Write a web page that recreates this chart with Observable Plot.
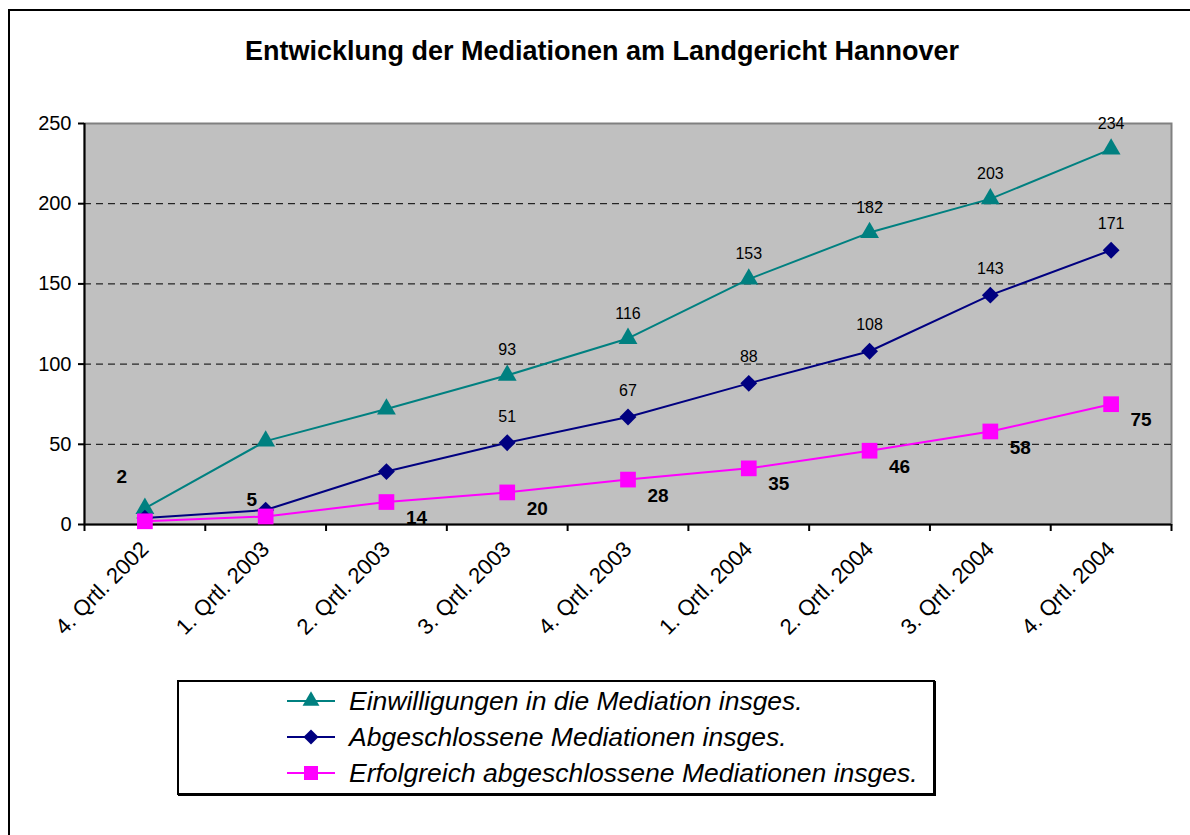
<!DOCTYPE html>
<html><head><meta charset="utf-8">
<script src="https://cdn.jsdelivr.net/npm/d3@7"></script>
<script src="https://cdn.jsdelivr.net/npm/@observablehq/plot@0.6"></script>
<style>
body{margin:0;background:#fff;font-family:"Liberation Sans",Arial,sans-serif;}
#wrap{position:relative;width:1190px;height:835px;overflow:hidden;background:#fff}
#frame{position:absolute;left:8px;top:9px;width:1300px;height:1000px;border:2px solid #000;}
#chart{position:absolute;left:0;top:0}
#title{position:absolute;left:0;width:1204px;top:35px;text-align:center;font-weight:bold;font-size:27px;line-height:32px;color:#000}
#legend{position:absolute;left:177px;top:680px;width:754px;height:111px;border:2px solid #000;box-shadow:1px 1px 0 #000;background:#fff}
.row{position:absolute;left:108px;height:32px;display:flex;align-items:center;font-style:italic;font-size:26.5px;color:#000;white-space:nowrap}
.row svg{margin-right:14px}
</style>
</head><body>
<div id="wrap">
  <div id="frame"></div>
  <div id="chart"></div>
  <div id="title"></div>
  <div id="legend"></div>
</div>
<script>
const title = "Entwicklung der Mediationen am Landgericht Hannover";
const quarters = ["4. Qrtl. 2002","1. Qrtl. 2003","2. Qrtl. 2003","3. Qrtl. 2003","4. Qrtl. 2003","1. Qrtl. 2004","2. Qrtl. 2004","3. Qrtl. 2004","4. Qrtl. 2004"];
const seriesNames = ["Einwilligungen in die Mediation insges.","Abgeschlossene Mediationen insges.","Erfolgreich abgeschlossene Mediationen insges."];
const einwilligungen = [10, 52, 72, 93, 116, 153, 182, 203, 234];
const abgeschlossen = [4, 9, 33, 51, 67, 88, 108, 143, 171];
const erfolgreich = [2, 5, 14, 20, 28, 35, 46, 58, 75];
const yTicks = [0, 50, 100, 150, 200, 250];
const gridTicks = [50, 100, 150, 200];

const colors = ["#008080", "#000080", "#ff00ff"];
const symbols = ["triangle2", "diamond2", "square2"];
const radii = [9, 7.6, 10];

const toRows = vals => vals.map((v, i) => ({i, v}));
const rowsE = toRows(einwilligungen);
const rowsA = toRows(abgeschlossen);
const rowsR = toRows(erfolgreich);
const boundaries = d3.range(quarters.length + 1).map(k => k - 0.5);

document.getElementById("title").textContent = title;

const chart = Plot.plot({
  width: 1190, height: 835,
  marginLeft: 84, marginRight: 19, marginTop: 123, marginBottom: 311,
  style: {background: "transparent", fontFamily: "'Liberation Sans', Arial, sans-serif", color: "#000", overflow: "visible"},
  x: {type: "linear", domain: [-0.5, quarters.length - 0.5]},
  y: {domain: [0, 250]},
  marks: [
    Plot.frame({fill: "#c0c0c0", stroke: "#808080", strokeWidth: 2}),
    Plot.gridY(gridTicks, {stroke: "#000", strokeOpacity: 1, strokeDasharray: "7,5", strokeWidth: 1}),
    Plot.ruleX([-0.5], {stroke: "#000", strokeWidth: 2}),
    Plot.ruleY([0], {stroke: "#000", strokeWidth: 2}),
    Plot.axisY(yTicks, {tickSize: 6, tickPadding: 7, fontSize: 20, stroke: "#000", strokeWidth: 2, label: null}),
    Plot.axisX(boundaries, {tickSize: 7, tickFormat: () => "", stroke: "#000", strokeWidth: 2, label: null}),
    Plot.axisX(d3.range(quarters.length), {tickSize: 0, tickRotate: -45, tickPadding: 21, tickFormat: i => quarters[i], fontSize: 22, label: null}),
    Plot.line(rowsE, {x: "i", y: "v", stroke: colors[0], strokeWidth: 2}),
    Plot.line(rowsA, {x: "i", y: "v", stroke: colors[1], strokeWidth: 2}),
    Plot.line(rowsR, {x: "i", y: "v", stroke: colors[2], strokeWidth: 2}),
    Plot.dot(rowsE, {x: "i", y: "v", symbol: symbols[0], fill: colors[0], r: radii[0]}),
    Plot.dot(rowsA, {x: "i", y: "v", symbol: symbols[1], fill: colors[1], r: radii[1]}),
    Plot.dot(rowsR, {x: "i", y: "v", symbol: symbols[2], fill: colors[2], r: radii[2]}),
    Plot.text(rowsE.filter(d => d.i >= 3), {x: "i", y: "v", text: d => String(d.v), dy: -25, fontSize: 16, fill: "#000"}),
    Plot.text(rowsA.filter(d => d.i >= 3), {x: "i", y: "v", text: d => String(d.v), dy: -26, fontSize: 16, fill: "#000"}),
    Plot.text(rowsR.filter(d => d.i >= 2), {x: "i", y: "v", text: d => String(d.v), dx: 30, dy: 16, fontSize: 19, fontWeight: "bold", fill: "#000"}),
    Plot.text(rowsR.filter(d => d.i === 0), {x: "i", y: "v", text: d => String(d.v), dx: -23, dy: -44, fontSize: 19, fontWeight: "bold", fill: "#000"}),
    Plot.text(rowsR.filter(d => d.i === 1), {x: "i", y: "v", text: d => String(d.v), dx: -14, dy: -17, fontSize: 19, fontWeight: "bold", fill: "#000"})
  ]
});
document.getElementById("chart").appendChild(chart);

const legend = document.getElementById("legend");
seriesNames.forEach((name, k) => {
  const row = document.createElement("div");
  row.className = "row";
  row.style.top = (3 + k * 36) + "px";
  const s = d3.create("svg").attr("width", 48).attr("height", 20);
  s.append("line").attr("x1", 0).attr("x2", 48).attr("y1", 10).attr("y2", 10).attr("stroke", colors[k]).attr("stroke-width", 2);
  s.append("path").attr("transform", "translate(24,10)")
    .attr("d", d3.symbol(d3[["symbolTriangle2","symbolDiamond2","symbolSquare2"][k]], Math.PI * radii[k] * radii[k] * 0.8)())
    .attr("fill", colors[k]);
  row.appendChild(s.node());
  const t = document.createElement("span");
  t.textContent = name;
  row.appendChild(t);
  legend.appendChild(row);
});
</script>
</body></html>
